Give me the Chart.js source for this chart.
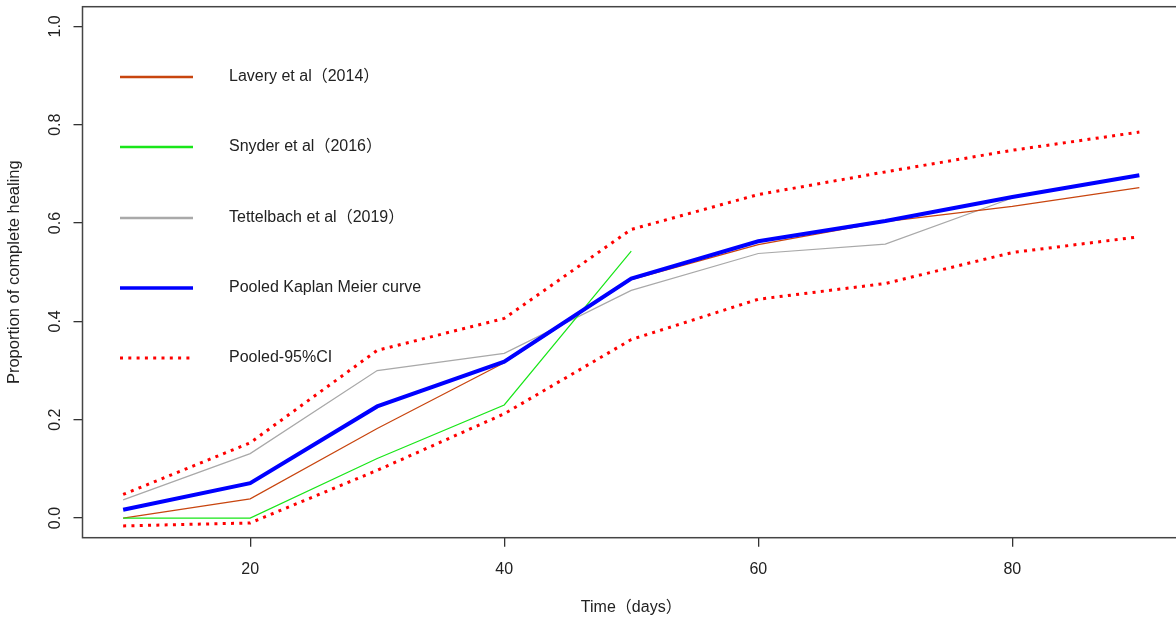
<!DOCTYPE html>
<html>
<head>
<meta charset="utf-8">
<script src="https://cdn.jsdelivr.net/npm/chart.js@4"></script>
<style>
  html, body { margin: 0; padding: 0; background: #fff; overflow: hidden; }
  #wrap { width: 1184px; height: 619px; position: relative; }
</style>
</head>
<body>
<div id="wrap"><canvas id="chart"></canvas></div>
<script>
// values
const days = [10, 20, 30, 40, 50, 60, 70, 80, 90];
const lavery = [0.0, 0.039, 0.182, 0.316, 0.485, 0.556, 0.603, 0.634, 0.672];
const snyder = [0.0, 0.0, 0.121, 0.23, 0.543];
const tettelbach = [0.037, 0.131, 0.30, 0.335, 0.463, 0.538, 0.557, 0.651];
const pooled = [0.017, 0.071, 0.227, 0.318, 0.487, 0.563, 0.604, 0.653, 0.697];
const ciUpper = [0.048, 0.153, 0.341, 0.406, 0.587, 0.658, 0.704, 0.748, 0.785];
const ciLower = [-0.016, -0.010, 0.097, 0.212, 0.363, 0.445, 0.477, 0.540, 0.572];

const xTicks = [20, 40, 60, 80];
const yTicks = [0, 0.2, 0.4, 0.6, 0.8, 1.0];

const legendLabels = ['Lavery et al（2014）', 'Snyder et al（2016）', 'Tettelbach et al（2019）', 'Pooled Kaplan Meier curve', 'Pooled-95%CI'];

const pts = (ys) => ys.map((y, i) => ({x: days[i], y: y}));
const font = '"Liberation Sans", Arial, "Noto Sans CJK SC", sans-serif';

const thin = (label, data, color, order) => ({
    label: label, data: pts(data), borderColor: color, borderWidth: 1.2,
    pointRadius: 0, tension: 0, order: order
});

const datasets = [
    thin(legendLabels[0], lavery, '#C8450F', 4),
    thin(legendLabels[1], snyder, '#19E619', 3),
    thin(legendLabels[2], tettelbach, '#A9A9A9', 5),
    {label: legendLabels[3], data: pts(pooled), borderColor: '#0000FF', borderWidth: 4,
     pointRadius: 0, tension: 0, order: 1},
    {label: legendLabels[4], data: pts(ciUpper), borderColor: '#FF0000', borderWidth: 3,
     borderDash: [3, 5.3], pointRadius: 0, tension: 0, order: 0},
    {label: '', data: pts(ciLower), borderColor: '#FF0000', borderWidth: 3,
     borderDash: [3, 5.3], pointRadius: 0, tension: 0, order: 0}
];

// frame, rotated y labels and legend box inside the plot
const extras = {
    id: 'extras',
    afterDraw(chart) {
        const ctx = chart.ctx;
        const a = chart.chartArea;
        const ys = chart.scales.y;
        ctx.save();
        ctx.strokeStyle = '#444';
        ctx.lineWidth = 1.5;
        ctx.strokeRect(a.left, a.top, a.right - a.left, a.bottom - a.top);

        ctx.fillStyle = '#222';
        ctx.font = '16px ' + font;
        ctx.textAlign = 'center';
        ctx.textBaseline = 'middle';
        yTicks.forEach(v => {
            ctx.save();
            ctx.translate(56, ys.getPixelForValue(v));
            ctx.rotate(-Math.PI / 2);
            ctx.fillText(v.toFixed(1), 0, 0);
            ctx.restore();
        });

        const rows = [77, 147, 218, 288, 358];
        const legendSets = [0, 1, 2, 3, 4];
        ctx.textAlign = 'left';
        legendSets.forEach((di, i) => {
            const ds = chart.data.datasets[di];
            ctx.save();
            ctx.strokeStyle = ds.borderColor;
            ctx.lineWidth = di === 3 ? 3.5 : (di === 4 ? 3 : 2.5);
            ctx.setLineDash(ds.borderDash || []);
            ctx.beginPath();
            ctx.moveTo(120, rows[i]);
            ctx.lineTo(193, rows[i]);
            ctx.stroke();
            ctx.restore();
            ctx.fillText(ds.label, 229, rows[i]);
        });
        ctx.restore();
    }
};

new Chart(document.getElementById('chart'), {
    type: 'line',
    data: {datasets: datasets},
    options: {
        responsive: true,
        maintainAspectRatio: false,
        animation: false,
        layout: {padding: {top: 6.7, right: 4, left: 0, bottom: 0}},
        plugins: {legend: {display: false}, tooltip: {enabled: false}},
        scales: {
            x: {
                type: 'linear', min: 6.8, max: 93.2,
                afterBuildTicks: (s) => { s.ticks = xTicks.map(v => ({value: v})); },
                afterFit: (s) => { s.height = 81.3; },
                grid: {drawOnChartArea: false, drawTicks: true, tickLength: 9, color: '#333', lineWidth: 1.3},
                border: {display: false},
                ticks: {color: '#222', font: {family: font, size: 16}, padding: 13, maxRotation: 0},
                title: {display: true, text: 'Time（days）', color: '#222',
                        font: {family: font, size: 16}, padding: {top: 4, bottom: 2}}
            },
            y: {
                type: 'linear', min: -0.04, max: 1.04,
                afterBuildTicks: (s) => { s.ticks = yTicks.map(v => ({value: v})); },
                afterFit: (s) => { s.width = 82.5; },
                grid: {drawOnChartArea: false, drawTicks: true, tickLength: 9, color: '#333', lineWidth: 1.3},
                border: {display: false},
                ticks: {display: false},
                title: {display: true, text: 'Proportion of complete healing', color: '#222',
                        font: {family: font, size: 16.5}, padding: {top: 5, bottom: 4}}
            }
        }
    },
    plugins: [extras]
});
</script>
</body>
</html>
